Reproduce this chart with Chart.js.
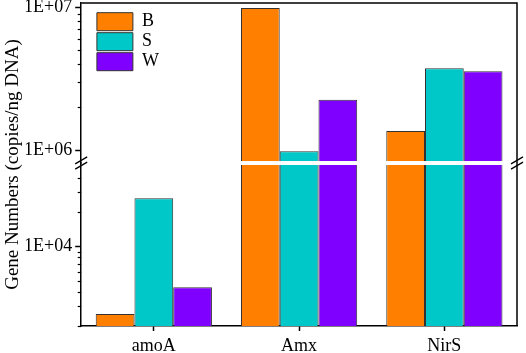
<!DOCTYPE html>
<html><head><meta charset="utf-8">
<script src="https://cdn.jsdelivr.net/npm/chart.js@4.4.1/dist/chart.umd.min.js"></script>
<style>html,body{margin:0;padding:0;background:#fff;overflow:hidden}</style>
</head><body>
<canvas id="c" width="526" height="353"></canvas>
<script>
const categories = ['amoA', 'Amx', 'NirS'];
const seriesNames = ['B', 'S', 'W'];
const valuesB = [2550, 9.9e6, 1.36e6];
const valuesS = [26400, 9.8e5, 3.74e6];
const valuesW = [4370, 2.25e6, 3.57e6];
const seriesColors = ['#FF8000', '#00C8C8', '#8000FF'];
const upperRange = [8.11e5, 1.072e7];
const lowerRange = [2000, 5.38e4];
const upperTicks = [1e6, 2e6, 3e6, 4e6, 5e6, 6e6, 7e6, 8e6, 9e6, 1e7];
const lowerTicks = [2000, 3000, 4000, 5000, 6000, 7000, 8000, 9000, 1e4, 2e4, 3e4, 4e4];
const majorTickValues = [1e4, 1e6, 1e7];
const majorTickLabels = ['1E+04', '1E+06', '1E+07'];
const yTitle = 'Gene Numbers (copies/ng DNA)';

const FONT = 'Liberation Serif';
const seriesValues = [valuesB, valuesS, valuesW];

const datasets = [];
['yUpper', 'yLower'].forEach((axisId) => {
  seriesNames.forEach((name, i) => {
    datasets.push({
      label: name,
      data: seriesValues[i],
      yAxisID: axisId,
      stack: name,
      backgroundColor: seriesColors[i],
      borderColor: '#333333',
      borderWidth: 1,
      borderSkipped: 'start',
      categoryPercentage: 0.8,
      barPercentage: 1.0
    });
  });
});

function tickLabel(value) {
  const i = majorTickValues.indexOf(value);
  return i >= 0 ? majorTickLabels[i] : '';
}

function yAxis(range, tickList, weight) {
  return {
    type: 'logarithmic',
    position: 'left',
    stack: 'broken',
    stackWeight: weight,
    stacked: false,
    bounds: 'data',
    min: range[0],
    max: range[1],
    afterBuildTicks: (s) => { s.ticks = tickList.map(v => ({ value: v })); },
    afterFit: (s) => { s.width = 55.4; s.paddingTop = 0; s.paddingBottom = 0; },
    grid: {
      drawOnChartArea: false, drawTicks: true, tickLength: 6, tickWidth: 1.5,
      tickColor: (ctx) => (ctx.tick && majorTickValues.includes(ctx.tick.value)) ? '#000' : 'rgba(0,0,0,0)'
    },
    border: { display: true, color: '#000', width: 1.5 },
    ticks: {
      autoSkip: false, padding: 3, color: '#000',
      font: { family: FONT, size: 18 },
      callback: (v) => tickLabel(v)
    }
  };
}

const segClip = {
  id: 'segClip',
  beforeDatasetDraw(chart, args) {
    const ys = args.meta.yScale, a = chart.chartArea, ctx = chart.ctx;
    ctx.save();
    ctx.beginPath();
    ctx.rect(a.left, ys.top, a.right - a.left, ys.bottom - ys.top);
    ctx.clip();
  },
  afterDatasetDraw(chart) { chart.ctx.restore(); }
};

const legendPlace = {
  id: 'legendPlace',
  afterLayout(chart) {
    const a = chart.chartArea;
    chart.legend.left = a.left + 13.7;
    chart.legend.top = a.top + 7.7;
  }
};

function breakMark(ctx, x, y) {
  ctx.beginPath();
  [-2.6, 2.6].forEach(o => {
    ctx.moveTo(x - 6, y + o + 3.5);
    ctx.lineTo(x + 6, y + o - 3.5);
  });
  ctx.stroke();
}

function boundary(scales) {
  return scales.yUpper.bottom;
}

const decor = {
  id: 'decor',
  afterDatasetsDraw(chart) {
    const { ctx, chartArea: a, scales } = chart;
    const b = boundary(scales);
    ctx.save();
    ctx.fillStyle = '#fff';
    ctx.fillRect(a.left + 1, b - 2, a.right - a.left - 2, 4);
    ctx.restore();
  },
  afterDraw(chart) {
    const { ctx, chartArea: a, scales } = chart;
    const b = boundary(scales);
    ctx.save();
    ctx.strokeStyle = '#000';
    ctx.lineWidth = 1.5;
    ctx.beginPath();
    ctx.moveTo(a.left, a.top);
    ctx.lineTo(a.right, a.top);
    ctx.lineTo(a.right, a.bottom);
    ctx.stroke();
    ctx.lineWidth = 1.2;
    ['yUpper', 'yLower'].forEach(id => {
      const s = scales[id];
      s.ticks.forEach(t => {
        if (majorTickValues.includes(t.value)) return;
        const y = Math.round(s.getPixelForValue(t.value)) + 0.5;
        ctx.beginPath();
        ctx.moveTo(a.left - 3.5, y);
        ctx.lineTo(a.left, y);
        ctx.stroke();
      });
    });
    ctx.lineWidth = 1.3;
    breakMark(ctx, a.left, b);
    breakMark(ctx, a.right, b);
    ctx.restore();
  }
};

new Chart(document.getElementById('c'), {
  type: 'bar',
  data: { labels: categories, datasets },
  options: {
    responsive: false,
    animation: false,
    devicePixelRatio: 1,
    layout: { padding: { top: 3, right: 9, bottom: 0, left: 0 } },
    scales: {
      x: {
        grid: { offset: false, drawOnChartArea: false, drawTicks: true, tickLength: 5, tickWidth: 1.5, tickColor: '#000' },
        border: { display: true, color: '#000', width: 1.5 },
        ticks: { color: '#000', padding: 4, font: { family: FONT, size: 18 } },
        afterFit: (s) => { s.height = 27; s.paddingLeft = 0; s.paddingRight = 0; }
      },
      yLower: yAxis(lowerRange, lowerTicks, 163),
      yUpper: yAxis(upperRange, upperTicks, 160)
    },
    plugins: {
      tooltip: { enabled: false },
      title: {
        display: true, text: yTitle, position: 'left', color: '#000',
        fullSize: false,
        font: { family: FONT, size: 19, weight: 'normal' },
        padding: { top: 2, bottom: 1 }
      },
      legend: {
        position: 'chartArea', align: 'start',
        labels: {
          boxWidth: 36, boxHeight: 18, padding: 2, color: '#000',
          font: { family: FONT, size: 18 },
          filter: (item) => item.datasetIndex < 3
        }
      }
    }
  },
  plugins: [segClip, legendPlace, decor]
});
</script>
</body></html>
